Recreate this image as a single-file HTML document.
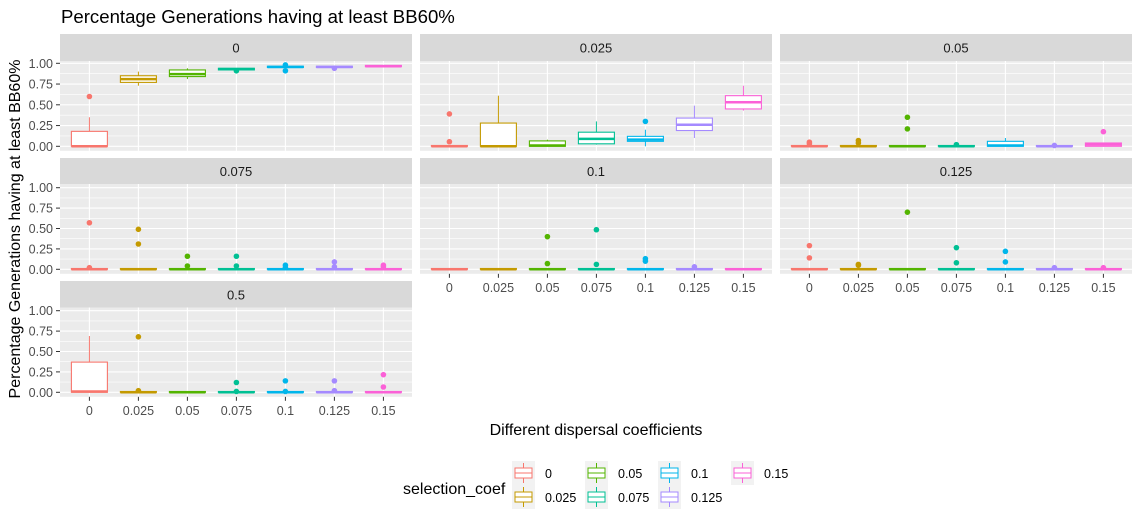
<!DOCTYPE html>
<html><head><meta charset="utf-8">
<style>
html,body{margin:0;padding:0;background:#fff;}
svg{display:block;font-family:"Liberation Sans",Arial,sans-serif;}
</style></head>
<body>
<svg id="chart" width="1141" height="528" viewBox="0 0 1141 528" xmlns="http://www.w3.org/2000/svg">
<text x="61" y="23" font-size="18.6" fill="#000">Percentage Generations having at least BB60%</text>
<text transform="translate(20,229) rotate(-90)" text-anchor="middle" font-size="16" fill="#000">Percentage Generations having at least BB60%</text>
<text x="596" y="435" text-anchor="middle" font-size="16" fill="#000">Different dispersal coefficients</text>
<g id="panels"></g>
<g id="legend"></g>
</svg>
<script>
const categories = ["0","0.025","0.05","0.075","0.1","0.125","0.15"];
const facets = ["0","0.025","0.05","0.075","0.1","0.125","0.5"];
const colors = ["#F8766D","#C49A00","#53B400","#00C094","#00B6EB","#A58AFF","#FB61D7"];
const yTicks = [0,0.25,0.5,0.75,1];
const yTickLabels = ["0.00","0.25","0.50","0.75","1.00"];
const q1 = [
 [0,0.77,0.84,0.92,0.95,0.95,0.96],
 [0,0,0,0.03,0.06,0.19,0.45],
 [0,0,0,0,0,0,0],
 [0,0,0,0,0,0,0],
 [0,0,0,0,0,0,0],
 [0,0,0,0,0,0,0],
 [0,0,0,0,0,0,0]];
const med = [
 [0,0.81,0.87,0.93,0.955,0.955,0.965],
 [0,0,0.01,0.09,0.08,0.26,0.53],
 [0,0,0,0,0.01,0,0.02],
 [0,0,0,0,0,0,0],
 [0,0,0,0,0,0,0],
 [0,0,0,0,0,0,0],
 [0.01,0,0,0,0,0,0]];
const q3 = [
 [0.18,0.85,0.92,0.94,0.965,0.965,0.975],
 [0.01,0.28,0.065,0.17,0.12,0.34,0.61],
 [0.01,0.01,0.01,0.01,0.06,0.01,0.04],
 [0.01,0.01,0.01,0.01,0.01,0.01,0.01],
 [0.01,0.01,0.01,0.01,0.01,0.01,0.01],
 [0.01,0.01,0.01,0.01,0.01,0.01,0.01],
 [0.37,0.01,0.01,0.01,0.01,0.01,0.01]];
const whiskLo = [
 [0,0.73,0.81,0.92,0.95,0.95,0.96],
 [0,0,0,0.02,0,0.1,0.43],
 [0,0,0,0,0,0,0],
 [0,0,0,0,0,0,0],
 [0,0,0,0,0,0,0],
 [0,0,0,0,0,0,0],
 [0,0,0,0,0,0,0]];
const whiskHi = [
 [0.35,0.9,0.94,0.94,0.965,0.965,0.975],
 [0.01,0.61,0.08,0.3,0.2,0.49,0.73],
 [0.01,0.01,0.01,0.01,0.1,0.01,0.04],
 [0.01,0.01,0.01,0.01,0.01,0.01,0.01],
 [0.01,0.01,0.01,0.01,0.01,0.01,0.01],
 [0.01,0.01,0.01,0.01,0.01,0.01,0.01],
 [0.69,0.01,0.01,0.01,0.01,0.01,0.01]];
const outliers = [
 [[0.6],[],[],[0.91],[0.91,0.98],[0.94],[]],
 [[0.39,0.055],[],[],[],[0.3],[],[]],
 [[0.05,0.03],[0.07,0.04],[0.35,0.21],[0.02],[],[0.01],[0.176]],
 [[0.57,0.02],[0.49,0.31],[0.16,0.04],[0.16,0.04],[0.05,0.02],[0.09,0.03],[0.05,0.03]],
 [[],[],[0.4,0.07],[0.485,0.06],[0.13,0.1],[0.03],[]],
 [[0.29,0.14],[0.06,0.05],[0.7],[0.265,0.08],[0.22,0.09],[0.02],[0.02]],
 [[],[0.68,0.02],[],[0.12,0.01],[0.14,0.01],[0.14,0.02],[0.216,0.065]]];

const NS = "http://www.w3.org/2000/svg";
const colX = [60,420,780], panelW = 352;
const rows = [
 {stripTop:34, panelTop:61, y0:146.3, unit:83},
 {stripTop:158, panelTop:184, y0:269.3, unit:81.6},
 {stripTop:281, panelTop:307.5, y0:392.3, unit:81.6}];
const facetPos = [[0,0],[0,1],[0,2],[1,0],[1,1],[1,2],[2,0]];
const bottomFacet = {0:6,1:4,2:5};
function mk(tag, attrs, parent){const e=document.createElementNS(NS,tag);for(const k in attrs)e.setAttribute(k,attrs[k]);parent.appendChild(e);return e;}
const root = document.getElementById("panels");

facets.forEach((f,fi)=>{
  const [r,c] = facetPos[fi];
  const R = rows[r], x0 = colX[c];
  const xS = i => x0 + 29.4 + 49*i;
  const yS = v => R.y0 - v*R.unit;
  const panelBottom = R.y0 + 4.5;
  const g = mk("g",{},root);
  
  
  const strip = mk("rect",{x:x0,y:R.stripTop,width:panelW,height:R.panelTop-R.stripTop,fill:"#D9D9D9"},g);
  
  
  const st = mk("text",{x:x0+panelW/2,y:(R.stripTop+R.panelTop)/2+5,"text-anchor":"middle","font-size":"13",fill:"#1A1A1A"},g);
  st.textContent = f;
  
  
  const bg = mk("rect",{x:x0,y:R.panelTop,width:panelW,height:panelBottom-R.panelTop,fill:"#EBEBEB"},g);
  
  
  for(let k=0;k<yTicks.length-1;k++){
    const yy=yS((yTicks[k]+yTicks[k+1])/2);
    const l=mk("line",{x1:x0,x2:x0+panelW,y1:yy,y2:yy,stroke:"#fff","stroke-width":"0.6"},g);
    
    
  }
  yTicks.forEach((t,k)=>{
    const yy=yS(t);
    const l=mk("line",{x1:x0,x2:x0+panelW,y1:yy,y2:yy,stroke:"#fff","stroke-width":"1.1"},g);
    
    
    if(c===0){
      mk("line",{x1:x0-4,x2:x0,y1:yy,y2:yy,stroke:"#333","stroke-width":"1"},g);
      const tl=mk("text",{x:x0-7,y:yy+4.5,"text-anchor":"end","font-size":"12.5",fill:"#4D4D4D"},g);
      tl.textContent=yTickLabels[k];
      
      
    }
  });
  categories.forEach((cat,i)=>{
    const xx=xS(i);
    const l=mk("line",{x1:xx,x2:xx,y1:R.panelTop,y2:panelBottom,stroke:"#fff","stroke-width":"1.1"},g);
    
    
  });
  if(bottomFacet[c]===fi){
    categories.forEach((cat,i)=>{
      const xx=xS(i);
      mk("line",{x1:xx,x2:xx,y1:panelBottom,y2:panelBottom+4,stroke:"#333","stroke-width":"1"},g);
      const tl=mk("text",{x:xx,y:panelBottom+18,"text-anchor":"middle","font-size":"12.5",fill:"#4D4D4D"},g);
      tl.textContent=cat;
      
      
    });
  }
  categories.forEach((cat,i)=>{
    const col=colors[i], xx=xS(i), hw=18;
    const bg2=mk("g",{},g);
    
    
    mk("line",{x1:xx,x2:xx,y1:yS(q3[fi][i]),y2:yS(whiskHi[fi][i]),stroke:col,"stroke-width":"1"},bg2);
    mk("line",{x1:xx,x2:xx,y1:yS(q1[fi][i]),y2:yS(whiskLo[fi][i]),stroke:col,"stroke-width":"1"},bg2);
    const top=yS(q3[fi][i]), bot=yS(q1[fi][i]);
    mk("rect",{x:xx-hw,y:top,width:2*hw,height:Math.max(bot-top,0.5),fill:"#fff",stroke:col,"stroke-width":"1.1"},bg2);
    const my=yS(med[fi][i]);
    mk("line",{x1:xx-hw,x2:xx+hw,y1:my,y2:my,stroke:col,"stroke-width":"2.5"},bg2);
    outliers[fi][i].forEach(v=>{
      const p=mk("circle",{cx:xx,cy:yS(v),r:"2.8",fill:col},bg2);
      
      
    });
  });
});

const lg=document.getElementById("legend");
const lt=mk("text",{x:403,y:494,"font-size":"16",fill:"#000"},lg);
lt.textContent="selection_coef";


const keyX=[512,585,658,731], keyY=[461,485];
categories.forEach((cat,i)=>{
  const cx=keyX[Math.floor(i/2)], cy=keyY[i%2];
  const e=mk("g",{},lg);
  
  
  mk("rect",{x:cx,y:cy,width:23,height:24,fill:"#F2F2F2"},e);
  mk("line",{x1:cx+11.5,x2:cx+11.5,y1:cy+2,y2:cy+22,stroke:colors[i],"stroke-width":"1"},e);
  mk("rect",{x:cx+3,y:cy+7,width:17,height:10,fill:"#fff",stroke:colors[i],"stroke-width":"1"},e);
  mk("line",{x1:cx+3,x2:cx+20,y1:cy+12,y2:cy+12,stroke:colors[i],"stroke-width":"1"},e);
  const t=mk("text",{x:cx+33,y:cy+17,"font-size":"12.5",fill:"#000"},e);
  t.textContent=cat;
});
</script>
</body></html>
